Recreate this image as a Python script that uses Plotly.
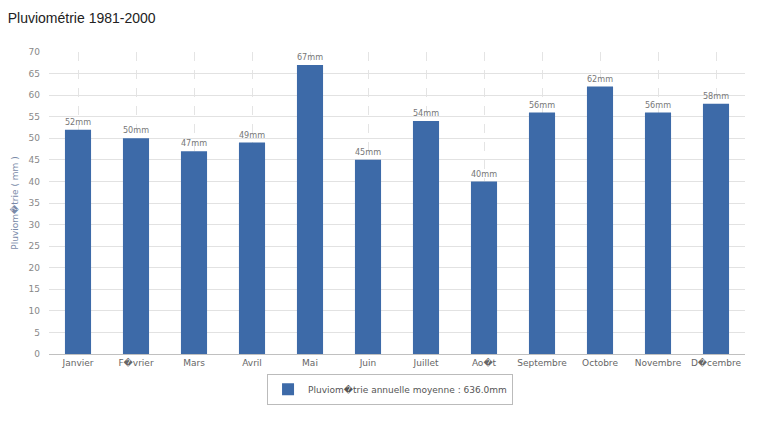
import plotly.graph_objects as go

months = ["Janvier", "F\ufffdvrier", "Mars", "Avril", "Mai", "Juin", "Juillet",
          "Ao\ufffdt", "Septembre", "Octobre", "Novembre", "D\ufffdcembre"]
rain = [52, 50, 47, 49, 67, 45, 54, 40, 56, 62, 56, 58]
labels = [f"{v}mm" for v in rain]
yticks = list(range(0, 75, 5))
series_name = "Pluviom\ufffdtrie annuelle moyenne : 636.0mm"

fig = go.Figure()
fig.add_trace(go.Bar(
    x=months, y=rain, text=labels, textposition="outside",
    textfont=dict(size=9, color="#777777", family="DejaVu Sans"),
    marker=dict(color="#3d6aa8", line=dict(width=0)),
    width=0.45, name=series_name, showlegend=True, cliponaxis=False,
))

fig.update_layout(
    width=773, height=421,
    margin=dict(l=49, r=28, t=52, b=67),
    paper_bgcolor="white", plot_bgcolor="white",
    title=dict(text="Pluviométrie 1981-2000", x=0.01, xanchor="left",
               y=0.957, yanchor="middle",
               font=dict(family="Liberation Sans", size=14, color="#222222")),
    font=dict(family="DejaVu Sans", size=9, color="#777777"),
    showlegend=True,
    legend=dict(orientation="h", x=0.49, xanchor="center", y=-0.065, yanchor="top",
                bordercolor="#bbbbbb", borderwidth=1, itemwidth=30,
                font=dict(size=9, color="#555555", family="DejaVu Sans")),
    bargap=0.55,
)
fig.update_xaxes(showgrid=True, gridcolor="#e4e4e4", griddash="dash", gridwidth=1,
                 showline=True, linecolor="#c0c0c0", ticks="",
                 tickfont=dict(size=9, color="#666666"))
fig.update_yaxes(range=[0, 70], tickvals=yticks, showgrid=True, gridcolor="#e2e2e2",
                 zeroline=False, showline=False, ticks="", ticklabelstandoff=8,
                 tickfont=dict(size=9, color="#888888"),
                 title=dict(text="Pluviom\ufffdtrie ( mm )", standoff=8,
                            font=dict(size=9, color="#7a8aa8")))

fig.write_html("out.html")
